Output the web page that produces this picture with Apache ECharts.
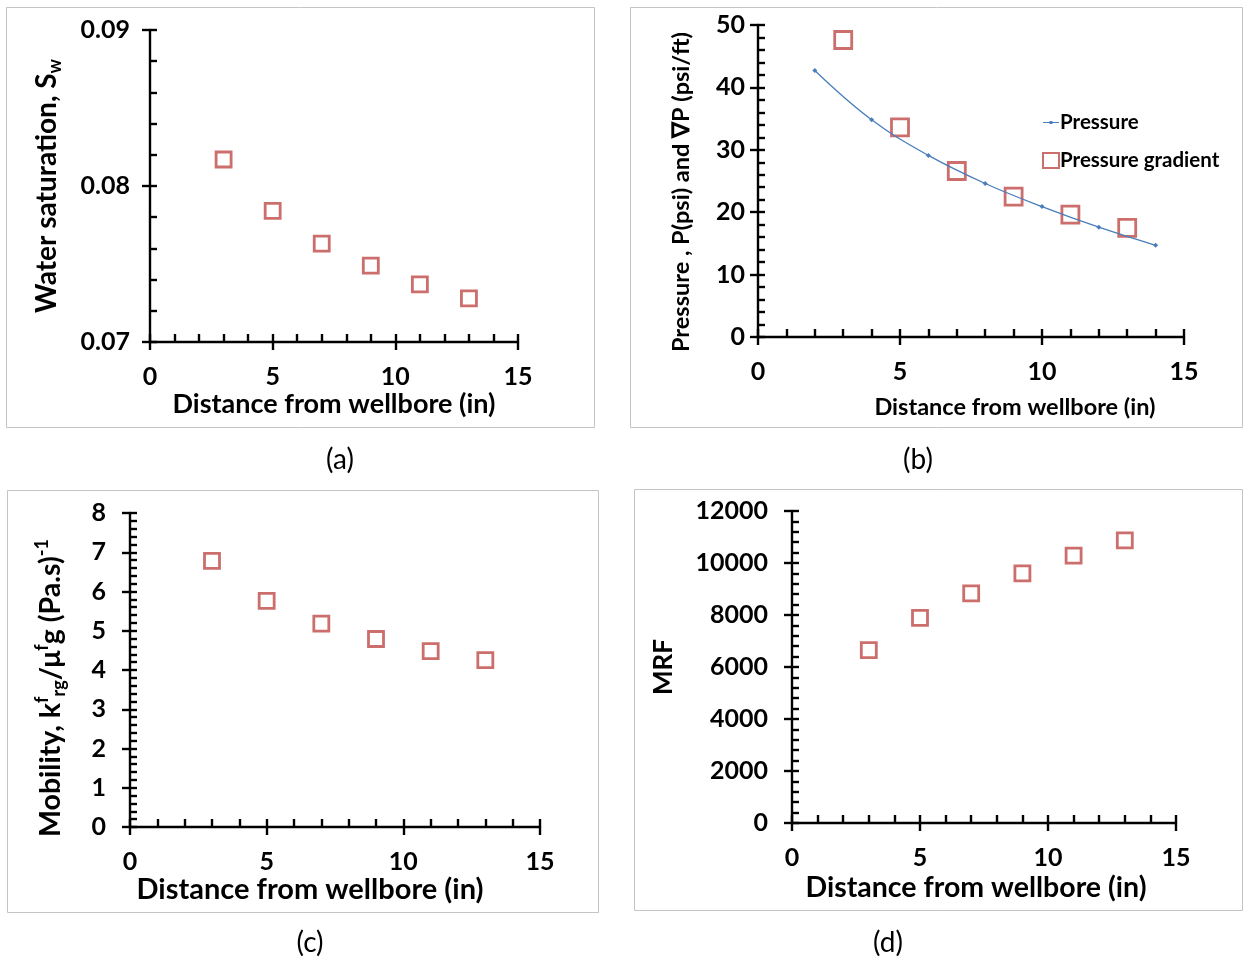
<!DOCTYPE html>
<html>
<head>
<meta charset="utf-8">
<script src="https://cdn.jsdelivr.net/npm/echarts@6/dist/echarts.min.js"></script>
<style>
html,body{margin:0;padding:0;background:#fff;}
#c{width:1243px;height:961px;}
</style>
</head>
<body>
<div id="c"></div>
<script>
// ---- data ----
var distSat = [3, 5, 7, 9, 11, 13];
var waterSat = [0.0817, 0.0784, 0.0763, 0.0749, 0.0737, 0.0728];

var distP = [2, 4, 6, 8, 10, 12, 14];
var pressure = [42.7, 34.8, 29.1, 24.6, 20.9, 17.6, 14.7];
var distGrad = [3, 5, 7, 9, 11, 13];
var pressGrad = [47.6, 33.6, 26.6, 22.5, 19.6, 17.5];

var distMob = [3, 5, 7, 9, 11, 13];
var mobility = [6.78, 5.76, 5.18, 4.79, 4.48, 4.25];

var distMrf = [3, 5, 7, 9, 11, 13];
var mrf = [6650, 7890, 8830, 9600, 10280, 10870];

var captions = ['(a)', '(b)', '(c)', '(d)'];
var xTitle = 'Distance from wellbore (in)';

function pairs(xs, ys) { return xs.map(function (x, i) { return [x, ys[i]]; }); }

var FONT = 'Lato';
var RED = '#BE4A47';
var BLUE = '#4A7EBB';

var grids = [
  {left: 150, top: 30, width: 368, height: 312},
  {left: 758, top: 25, width: 426, height: 312},
  {left: 130, top: 513, width: 410, height: 314},
  {left: 792, top: 511, width: 384, height: 312}
];

var xCfg = [
  {labelSize: 25, labelMargin: 22, nameSize: 27, nameGap: 49, namePad: [0,0,0,0]},
  {labelSize: 25, labelMargin: 22, nameSize: 23.5, nameGap: 58, namePad: [0,0,0,88]},
  {labelSize: 25, labelMargin: 22, nameSize: 29, nameGap: 45, namePad: [0,50,0,0]},
  {labelSize: 25, labelMargin: 22, nameSize: 28.5, nameGap: 50, namePad: [0,16,0,0]}
];
var yCfg = [
  {min: 0.07, max: 0.09, major: 0.01, minor: 0.002, labelMargin: 20, nameGap: 86,
   name: '{b|Water saturation, S}{sub|w}', size: 28, pad: [0,0,0,0]},
  {min: 0, max: 50, major: 10, minor: 2, labelMargin: 13, nameGap: 62,
   name: '{b|Pressure , P(psi) and \u2207P (psi/ft)}', size: 23.5, pad: [0,22,0,0]},
  {min: 0, max: 8, major: 1, minor: 0.2, labelMargin: 24, nameGap: 62,
   name: '{b|Mobility, k}{sup|f}{sub|rg}{b|/\u03bc}{sup|f}{b|g (Pa.s)}{sup|-1}', size: 28.5, pad: [0,36,0,0]},
  {min: 0, max: 12000, major: 2000, minor: 400, labelMargin: 24, nameGap: 112,
   name: '{b|MRF}', size: 26, pad: [0,0,0,0]}
];

function richFor(size) {
  var s = Math.round(size * 0.64);
  return {
    b: {fontSize: size, fontWeight: 'bold', fontFamily: FONT, color: '#000', lineHeight: size + 6},
    sub: {fontSize: s, fontWeight: 'bold', fontFamily: FONT, color: '#000', verticalAlign: 'bottom', lineHeight: s},
    sup: {fontSize: s, fontWeight: 'bold', fontFamily: FONT, color: '#000', verticalAlign: 'top', lineHeight: s}
  };
}

function plainNum(v) { return String(+v.toFixed(4)); }

var xAxes = [], yAxes = [];
for (var g = 0; g < 4; g++) {
  var xc = xCfg[g], yc = yCfg[g];
  xAxes.push({
    gridIndex: g, type: 'value', position: 'bottom', min: 0, max: 15, interval: 5,
    axisLine: {show: true, onZero: false, lineStyle: {color: '#000', width: 2.4}},
    axisTick: {show: true, inside: false, length: 8, lineStyle: {color: '#000', width: 2.4}},
    axisLabel: {fontSize: xc.labelSize, fontWeight: 'bold', fontFamily: FONT, color: '#000', margin: xc.labelMargin, formatter: plainNum},
    splitLine: {show: false},
    name: xTitle, nameLocation: 'middle', nameGap: xc.nameGap,
    nameTextStyle: {fontSize: xc.nameSize, fontWeight: 'bold', fontFamily: FONT, color: '#000', padding: xc.namePad}
  });
  xAxes.push({
    gridIndex: g, type: 'value', position: 'bottom', min: 0, max: 15, interval: 1,
    axisLine: {show: false, onZero: false},
    axisTick: {show: true, inside: true, length: 8, lineStyle: {color: '#000', width: 2.4}},
    axisLabel: {show: false}, splitLine: {show: false}
  });
  yAxes.push({
    gridIndex: g, type: 'value', position: 'left', min: yc.min, max: yc.max, interval: yc.major,
    axisLine: {show: true, onZero: false, lineStyle: {color: '#000', width: 2.4}},
    axisTick: {show: true, inside: false, length: 8, lineStyle: {color: '#000', width: 2.4}},
    axisLabel: {fontSize: 25, fontWeight: 'bold', fontFamily: FONT, color: '#000', margin: yc.labelMargin, formatter: plainNum},
    splitLine: {show: false},
    name: yc.name, nameLocation: 'middle', nameGap: yc.nameGap, nameRotate: 90,
    nameTextStyle: {padding: yc.pad, rich: richFor(yc.size)}
  });
  yAxes.push({
    gridIndex: g, type: 'value', position: 'left', min: yc.min, max: yc.max, interval: yc.minor,
    axisLine: {show: false, onZero: false},
    axisTick: {show: true, inside: true, length: 7, lineStyle: {color: '#000', width: 2.4}},
    axisLabel: {show: false}, splitLine: {show: false}
  });
}

function sq(name, gi, data, size) {
  return {
    name: name, type: 'scatter', xAxisIndex: gi * 2, yAxisIndex: gi * 2, data: data,
    symbol: 'rect', symbolSize: size,
    itemStyle: {color: '#fff', borderColor: RED, borderWidth: 2.8}
  };
}

var boxes = [
  [6, 7, 588, 420], [630, 7, 612, 420], [7, 490, 591, 422], [634, 489, 608, 421]
];
var capPos = [[340, 460], [918, 460], [310, 943], [888, 943]];
var graphics = [];
boxes.forEach(function (b) {
  graphics.push({type: 'rect', shape: {x: b[0] + 0.5, y: b[1] + 0.5, width: b[2], height: b[3]},
    style: {fill: 'none', stroke: '#C4C4C4', lineWidth: 1}, silent: true, z: -1});
});
captions.forEach(function (c, i) {
  graphics.push({type: 'text', x: capPos[i][0], y: capPos[i][1],
    style: {text: c, font: '28px ' + FONT, fill: '#000', textAlign: 'center', textVerticalAlign: 'middle'}});
});

var option = {
  backgroundColor: '#fff',
  animation: false,
  grid: grids,
  xAxis: xAxes,
  yAxis: yAxes,
  legend: {
    data: [
      {name: 'Pressure', icon: 'path://M0,4.4 L16,4.4 L16,5.6 L0,5.6 Z M6.5,3.5 L9.5,3.5 L9.5,6.5 L6.5,6.5 Z'},
      {name: 'Pressure gradient'}
    ],
    orient: 'vertical', left: 1037, top: 107, itemGap: 17, itemWidth: 16, itemHeight: 15,
    textStyle: {fontSize: 20.5, fontWeight: 'bold', fontFamily: FONT, color: '#000', padding: [0, 0, 0, -4]}
  },
  graphic: graphics,
  series: [
    sq('sat', 0, pairs(distSat, waterSat), 15),
    {
      name: 'Pressure', type: 'line', xAxisIndex: 2, yAxisIndex: 2, data: pairs(distP, pressure),
      smooth: 0.4, symbol: 'diamond', symbolSize: 5, showSymbol: true,
      lineStyle: {color: BLUE, width: 1.3}, itemStyle: {color: BLUE}
    },
    sq('Pressure gradient', 1, pairs(distGrad, pressGrad), 17),
    sq('mob', 2, pairs(distMob, mobility), 15),
    sq('mrf', 3, pairs(distMrf, mrf), 15)
  ]
};

var chart = echarts.init(document.getElementById('c'), null, {renderer: 'canvas'});
chart.setOption(option);
</script>
</body>
</html>
